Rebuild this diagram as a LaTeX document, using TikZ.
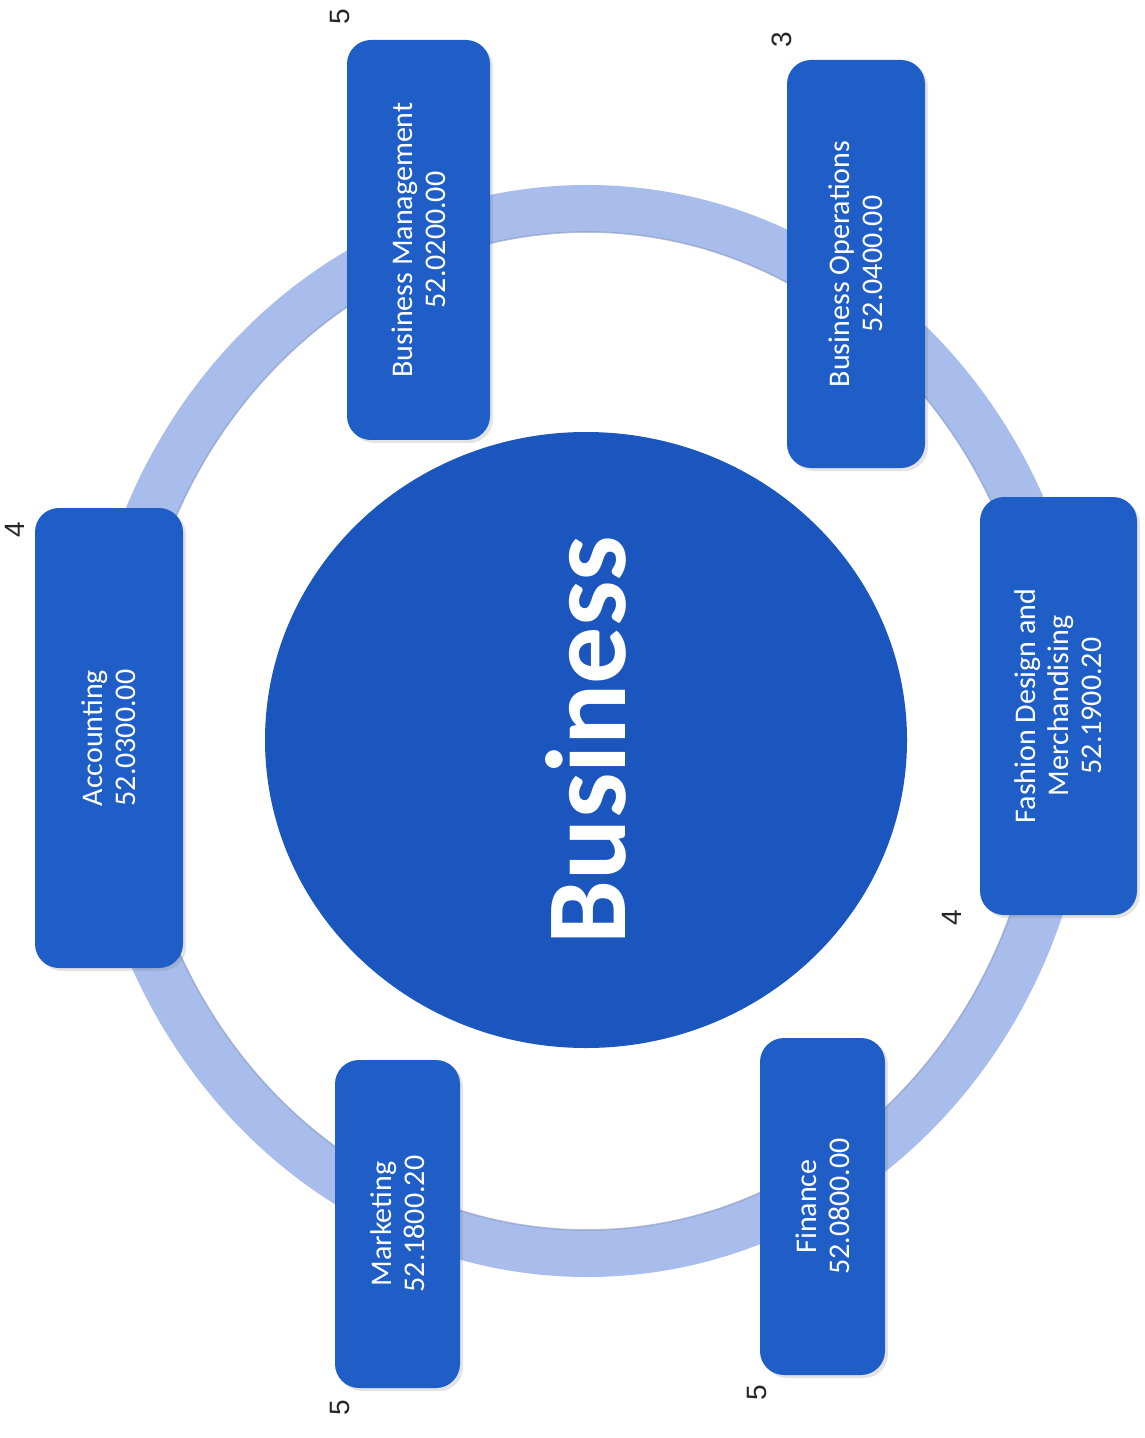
\documentclass[tikz,border=0pt]{standalone}
\usepackage{fontspec}
\setmainfont{Carlito}
\newfontfamily\numfont{Liberation Sans}
\usetikzlibrary{shapes.geometric,shadows}
\definecolor{boxblue}{HTML}{1F5DC7}
\definecolor{hubblue}{HTML}{1B56BF}
\definecolor{ringblue}{HTML}{A9BDEC}
\definecolor{ringedge}{HTML}{8797C2}
\tikzset{
  catbox/.style={draw=none, fill=boxblue, rounded corners=12pt, inner sep=0pt,
    rotate=90, align=center, text=white, font=\fontsize{15}{16.5}\selectfont,
    drop shadow={shadow xshift=1.5pt, shadow yshift=-1.5pt, opacity=0.22}},
  hubnode/.style={ellipse, draw=none, fill=hubblue, inner sep=0pt, rotate=90,
    text=white, font=\fontsize{57}{60}\selectfont\bfseries},
  numlabel/.style={rotate=90, font=\numfont\fontsize{14}{14}\selectfont, text=black!85, inner sep=0pt}
}
\begin{document}
\begin{tikzpicture}[x=0.5pt, y=-0.5pt]
\useasboundingbox (0,0) rectangle (1144,1438);
% ring
\fill[ringblue, even odd rule] (587,731) ellipse [x radius=505, y radius=546]
                               (587,731) ellipse [x radius=455, y radius=499];
\draw[ringedge, line width=0.8pt, opacity=0.6] (587,731) ellipse [x radius=455, y radius=499];
% hub
\node[hubnode, minimum width=308pt, minimum height=321pt] (hub) at (586,740) {Business};
% category boxes
\node[catbox, minimum width=200pt, minimum height=71.5pt] (bm) at (418.5,240) {Business Management\\52.0200.00};
\node[catbox, minimum width=204pt, minimum height=69pt] (bo) at (856,264) {Business Operations\\52.0400.00};
\node[catbox, minimum width=230pt, minimum height=74pt] (acc) at (109,738) {Accounting\\52.0300.00};
\node[catbox, minimum width=209pt, minimum height=78.5pt] (fdm) at (1058.5,706) {Fashion Design and\\Merchandising\\52.1900.20};
\node[catbox, minimum width=164pt, minimum height=62.5pt] (mkt) at (397.5,1224) {Marketing\\52.1800.20};
\node[catbox, minimum width=168.5pt, minimum height=62.5pt] (fin) at (822.5,1206.5) {Finance\\52.0800.00};
% numbers
\node[numlabel] (n1) at (340,17) {5};
\node[numlabel] (n2) at (782,40) {3};
\node[numlabel] (n3) at (15,530) {4};
\node[numlabel] (n4) at (952,918) {4};
\node[numlabel] (n5) at (340,1408) {5};
\node[numlabel] (n6) at (757,1393) {5};
\end{tikzpicture}
\end{document}
